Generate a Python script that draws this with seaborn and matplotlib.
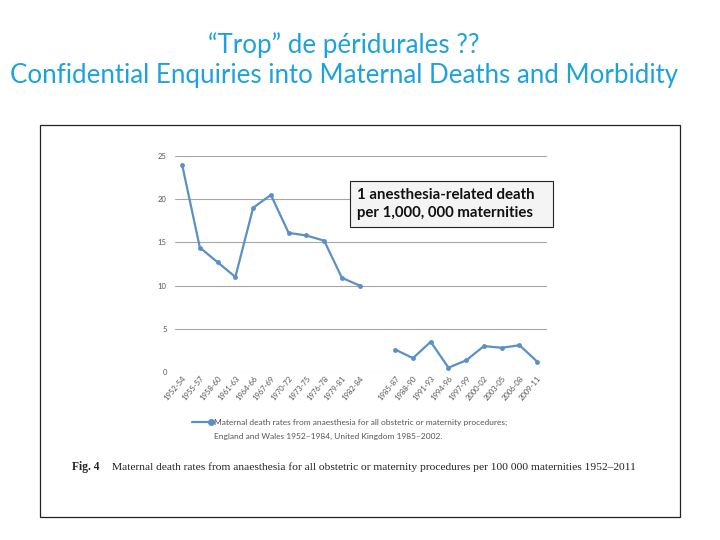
import matplotlib
matplotlib.use("Agg")
import matplotlib.pyplot as plt
from matplotlib.lines import Line2D
from matplotlib.patches import Rectangle
import numpy as np
import pandas as pd
import seaborn as sns

# ---------------------------------------------------------------------------
# Data; slot 11 is the empty gap
# ---------------------------------------------------------------------------
periods = ["1952-54", "1955-57", "1958-60", "1961-63", "1964-66", "1967-69",
           "1970-72", "1973-75", "1976-78", "1979-81", "1982-84", "",
           "1985-87", "1988-90", "1991-93", "1994-96", "1997-99", "2000-02",
           "2003-05", "2006-08", "2009-11"]
rates = [24.0, 14.4, 12.7, 11.0, 19.0, 20.5, 16.1, 15.8, 15.2, 10.9, 10.0, None,
         2.6, 1.6, 3.5, 0.5, 1.35, 3.0, 2.8, 3.1, 1.2]
series = ["England and Wales"] * 11 + [""] + ["United Kingdom"] * 9
y_ticks = [0, 5, 10, 15, 20, 25]

df = pd.DataFrame({"pos": np.arange(len(periods)), "rate": rates, "series": series})
df = df.dropna(subset=["rate"])

LINE = "#5b8fc7"
TITLE = "#1ea2dd"
SERIF = ["Liberation Serif", "DejaVu Serif"]

sns.set_theme(style="white")
plt.rcParams["font.family"] = ["Lato", "DejaVu Sans"]

fig = plt.figure(figsize=(7.2, 5.4), dpi=100)
fig.patch.set_facecolor("white")

# Outer frame around the figure image
fig.patches.append(Rectangle((40 / 720, 23 / 540), 640 / 720, 392 / 540,
                             transform=fig.transFigure, fill=False,
                             edgecolor="#222222", linewidth=0.9))

ax = fig.add_axes([175 / 720, 168 / 540, 372 / 720, 216 / 540])
sns.lineplot(data=df, x="pos", y="rate", units="series", estimator=None,
             color=LINE, linewidth=1.6, marker="o", markersize=3.5,
             markeredgewidth=0, ax=ax, legend=False)

ax.set_xlim(-0.4, 20.55)
ax.set_ylim(0, 25)
ax.set_yticks(y_ticks)
ax.set_xticks(np.arange(len(periods)))
ax.set_xticklabels(periods, rotation=50, ha="right", rotation_mode="anchor",
                   fontsize=5.5, color="#555555")
ax.tick_params(axis="y", labelsize=5.5, labelcolor="#555555", length=0, pad=6)
ax.tick_params(axis="x", length=0, pad=2)
ax.set_xlabel("")
ax.set_ylabel("")
for s in ax.spines.values():
    s.set_visible(False)
for v in y_ticks:
    ax.axhline(v, color="#d9d9d9" if v == 0 else "#a6a6a6", linewidth=0.8, zorder=0)

# Annotation box (fixed-size text box as on the slide)
fig.patches.append(Rectangle((350 / 720, 1 - 227 / 540), 203 / 720, 46 / 540,
                             transform=fig.transFigure, facecolor="#f4f4f4",
                             edgecolor="#222222", linewidth=0.8, zorder=5))
fig.text(357 / 720, 1 - 204 / 540,
         "1 anesthesia-related death\nper 1,000, 000 maternities",
         fontsize=10.8, fontweight="bold", color="#111111", va="center", ha="left",
         linespacing=1.45, zorder=6)

# Legend below the chart
fig.lines.append(Line2D([192 / 720, 211 / 720], [1 - 422 / 540] * 2,
                        transform=fig.transFigure, color=LINE, linewidth=1.6,
                        marker="o", markevery=[1], markersize=4))
fig.text(214 / 720, 1 - 422 / 540,
         "Maternal death rates from anaesthesia for all obstetric or maternity procedures;",
         fontsize=6.0, color="#555555", va="center", ha="left")
fig.text(214 / 720, 1 - 436 / 540,
         "England and Wales 1952\u20131984, United Kingdom 1985\u20132002.",
         fontsize=6.0, color="#555555", va="center", ha="left")

# Caption
fig.text(72 / 720, 1 - 467 / 540, "Fig. 4", fontsize=8.3, fontweight="bold",
         family=SERIF, color="#222222", va="center", ha="left")
fig.text(112 / 720, 1 - 467 / 540,
         "Maternal death rates from anaesthesia for all obstetric or maternity procedures per 100 000 maternities 1952\u20132011",
         fontsize=8.25, family=SERIF, color="#222222", va="center", ha="left")

# Slide title
fig.text(344 / 720, 1 - 45 / 540, "\u201cTrop\u201d de p\u00e9ridurales ??",
         fontsize=18.6, color=TITLE, ha="center", va="center")
fig.text(344 / 720, 1 - 75 / 540,
         "Confidential Enquiries into Maternal Deaths and Morbidity",
         fontsize=18.6, color=TITLE, ha="center", va="center")

fig.savefig("out.png", dpi=100)
